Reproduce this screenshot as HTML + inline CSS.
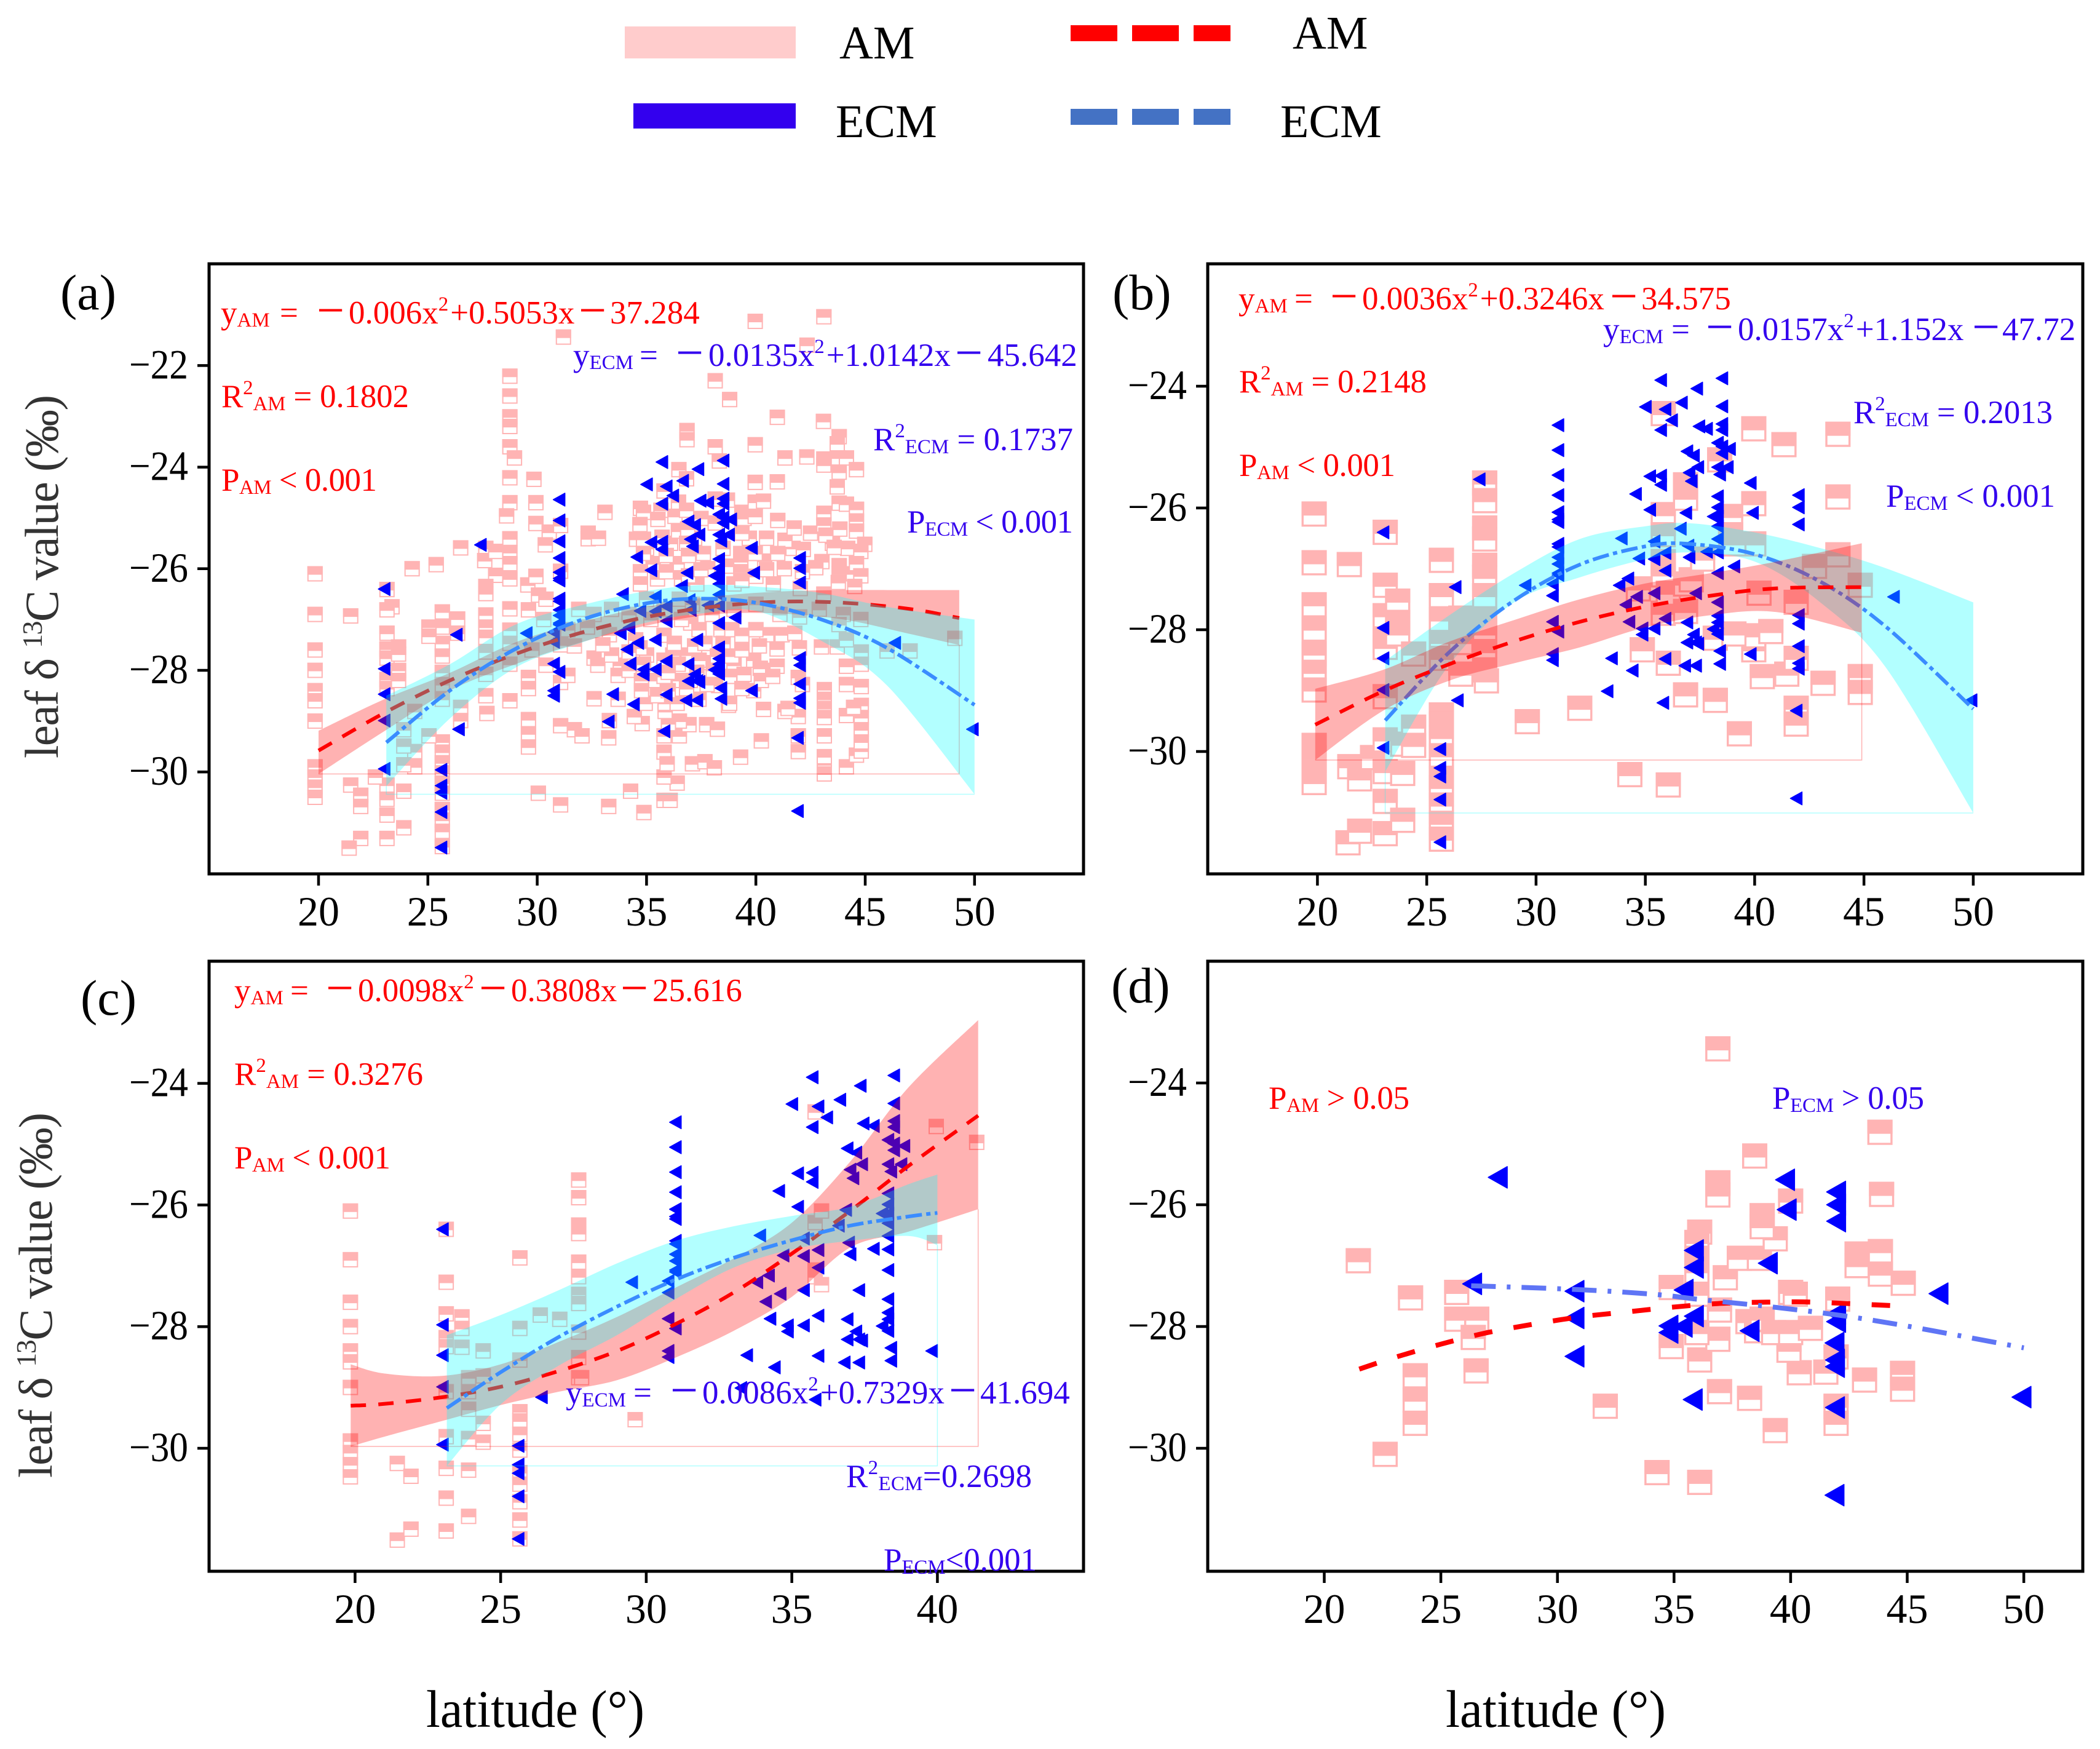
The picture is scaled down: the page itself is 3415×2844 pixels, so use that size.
<!DOCTYPE html>
<html lang="en">
<head>
<meta charset="utf-8">
<title>Leaf d13C versus latitude</title>
<style>
html,body{margin:0;padding:0;background:#fff;}
svg{display:block;}
text{font-family:"Liberation Serif","DejaVu Serif",serif;}
.eq{font-size:53px;}
.tick{font-size:68px;fill:#000;}
.red{fill:#ff0000;}
.blue{fill:#3300ee;}
</style>
</head>
<body>
<svg id="figure" xmlns="http://www.w3.org/2000/svg" width="3415" height="2844" viewBox="0 0 3415 2844">
<rect x="0" y="0" width="3415" height="2844" fill="#fff"/>

<g>
  <rect x="1016" y="43" width="278" height="52" fill="#ffcccc"/>
  <text x="1365" y="95" font-size="76" fill="#000">AM</text>
  <rect x="1030" y="168" width="264" height="41" fill="#3300ee"/>
  <text x="1359" y="223" font-size="76" fill="#000">ECM</text>
  <g fill="#ff0000">
    <rect x="1741" y="41" width="76" height="26"/><rect x="1841" y="41" width="76" height="26"/><rect x="1941" y="41" width="60" height="26"/>
  </g>
  <text x="2102" y="79" font-size="76" fill="#000">AM</text>
  <g fill="#4472c4">
    <rect x="1741" y="177" width="76" height="26"/><rect x="1841" y="177" width="76" height="26"/><rect x="1941" y="177" width="60" height="26"/>
  </g>
  <text x="2082" y="223" font-size="76" fill="#000">ECM</text>
</g>

<g id="plots"></g>

<g>
  <text x="98" y="503" font-size="82" fill="#000">(a)</text>
  <text x="1809" y="503" font-size="82" fill="#000">(b)</text>
  <text x="131" y="1650" font-size="82" fill="#000">(c)</text>
  <text x="1807" y="1630" font-size="82" fill="#000">(d)</text>
</g>

<g>
  <text transform="translate(94,1233) rotate(-90)" font-size="77" fill="#333" textLength="591">leaf δ <tspan font-size="46" dy="-26">13</tspan><tspan dy="26">C value (‰)</tspan></text>
  <text transform="translate(84,2403) rotate(-90)" font-size="77" fill="#333" textLength="594">leaf δ <tspan font-size="46" dy="-26">13</tspan><tspan dy="26">C value (‰)</tspan></text>
  <text x="693" y="2808" font-size="86" fill="#000" textLength="355" lengthAdjust="spacingAndGlyphs">latitude (°)</text>
  <text x="2351" y="2808" font-size="86" fill="#000" textLength="358" lengthAdjust="spacingAndGlyphs">latitude (°)</text>
</g>

<g>
  <text class="eq red" y="526"><tspan x="359">y</tspan><tspan font-size="33" dy="5">AM</tspan><tspan x="455" dy="-5">=</tspan><tspan x="515" font-size="80" dy="5">−</tspan><tspan x="567" dy="-5">0.006x</tspan><tspan font-size="33" dy="-21">2</tspan><tspan dy="21" dx="3">+0.5053x</tspan><tspan x="941" font-size="80" dy="5">−</tspan><tspan x="992" dy="-5">37.284</tspan></text>
  <text class="eq blue" y="595"><tspan x="932">y</tspan><tspan font-size="33" dy="5">ECM</tspan><tspan x="1040" dy="-5">=</tspan><tspan x="1099" font-size="80" dy="5">−</tspan><tspan x="1152" dy="-5">0.0135x</tspan><tspan font-size="33" dy="-21">2</tspan><tspan dy="21" dx="3">+1.0142x</tspan><tspan x="1553" font-size="80" dy="5">−</tspan><tspan x="1606" dy="-5">45.642</tspan></text>
  <text class="eq red" x="360" y="662" textLength="305">R<tspan font-size="33" dy="-21">2</tspan><tspan font-size="33" dy="26">AM</tspan><tspan dy="-5"> = 0.1802</tspan></text>
  <text class="eq red" x="360" y="798" textLength="253">P<tspan font-size="33" dy="5">AM</tspan><tspan dy="-5"> &lt; 0.001</tspan></text>
  <text class="eq blue" x="1420" y="732" textLength="325">R<tspan font-size="33" dy="-21">2</tspan><tspan font-size="33" dy="26">ECM</tspan><tspan dy="-5"> = 0.1737</tspan></text>
  <text class="eq blue" x="1475" y="866" textLength="270">P<tspan font-size="33" dy="5">ECM</tspan><tspan dy="-5"> &lt; 0.001</tspan></text>
</g>

<g>
  <text class="eq red" y="503"><tspan x="2014">y</tspan><tspan font-size="33" dy="5">AM</tspan><tspan x="2105" dy="-5">=</tspan><tspan x="2163" font-size="80" dy="5">−</tspan><tspan x="2215" dy="-5">0.0036x</tspan><tspan font-size="33" dy="-21">2</tspan><tspan dy="21" dx="3">+0.3246x</tspan><tspan x="2618" font-size="80" dy="5">−</tspan><tspan x="2669" dy="-5">34.575</tspan></text>
  <text class="eq blue" y="553"><tspan x="2607">y</tspan><tspan font-size="33" dy="5">ECM</tspan><tspan x="2718" dy="-5">=</tspan><tspan x="2774" font-size="80" dy="5">−</tspan><tspan x="2826" dy="-5">0.0157x</tspan><tspan font-size="33" dy="-21">2</tspan><tspan dy="21" dx="3">+1.152x</tspan><tspan x="3207" font-size="80" dy="5">−</tspan><tspan x="3256" dy="-5">47.72</tspan></text>
  <text class="eq red" x="2015" y="638" textLength="305">R<tspan font-size="33" dy="-21">2</tspan><tspan font-size="33" dy="26">AM</tspan><tspan dy="-5"> = 0.2148</tspan></text>
  <text class="eq red" x="2015" y="774" textLength="254">P<tspan font-size="33" dy="5">AM</tspan><tspan dy="-5"> &lt; 0.001</tspan></text>
  <text class="eq blue" x="3014" y="688" textLength="324">R<tspan font-size="33" dy="-21">2</tspan><tspan font-size="33" dy="26">ECM</tspan><tspan dy="-5"> = 0.2013</tspan></text>
  <text class="eq blue" x="3067" y="824" textLength="275">P<tspan font-size="33" dy="5">ECM</tspan><tspan dy="-5"> &lt; 0.001</tspan></text>
</g>

<g>
  <text class="eq red" y="1628"><tspan x="381">y</tspan><tspan font-size="33" dy="5">AM</tspan><tspan x="472" dy="-5">=</tspan><tspan x="530" font-size="80" dy="5">−</tspan><tspan x="582" dy="-5">0.0098x</tspan><tspan font-size="33" dy="-21">2</tspan><tspan x="779" font-size="80" dy="26">−</tspan><tspan x="831" dy="-5">0.3808x</tspan><tspan x="1009" font-size="80" dy="5">−</tspan><tspan x="1061" dy="-5">25.616</tspan></text>
  <text class="eq red" x="381" y="1764" textLength="307">R<tspan font-size="33" dy="-21">2</tspan><tspan font-size="33" dy="26">AM</tspan><tspan dy="-5"> = 0.3276</tspan></text>
  <text class="eq red" x="381" y="1900" textLength="254">P<tspan font-size="33" dy="5">AM</tspan><tspan dy="-5"> &lt; 0.001</tspan></text>
  <text class="eq blue" y="2282"><tspan x="920">y</tspan><tspan font-size="33" dy="5">ECM</tspan><tspan x="1030" dy="-5">=</tspan><tspan x="1090" font-size="80" dy="5">−</tspan><tspan x="1142" dy="-5">0.0086x</tspan><tspan font-size="33" dy="-21">2</tspan><tspan dy="21" dx="3">+0.7329x</tspan><tspan x="1543" font-size="80" dy="5">−</tspan><tspan x="1594" dy="-5">41.694</tspan></text>
  <text class="eq blue" x="1376" y="2418" textLength="302">R<tspan font-size="33" dy="-21">2</tspan><tspan font-size="33" dy="26">ECM</tspan><tspan dy="-5">=0.2698</tspan></text>
  <text class="eq blue" x="1437" y="2554" textLength="249">P<tspan font-size="33" dy="5">ECM</tspan><tspan dy="-5">&lt;0.001</tspan></text>
</g>

<g>
  <text class="eq red" x="2063" y="1803" textLength="229">P<tspan font-size="33" dy="5">AM</tspan><tspan dy="-5"> &gt; 0.05</tspan></text>
  <text class="eq blue" x="2882" y="1803" textLength="247">P<tspan font-size="33" dy="5">ECM</tspan><tspan dy="-5"> &gt; 0.05</tspan></text>
</g>
</svg>

<script>
/* ---------- tick labels ---------- */
const xTicksAB = [20,25,30,35,40,45,50];
const xTicksC = [20,25,30,35,40];
const xTicksD = [20,25,30,35,40,45,50];
const yTicksA = [-22,-24,-26,-28,-30];
const yTicksBCD = [-24,-26,-28,-30];

/* ---------- scatter values: [latitude, leaf d13C] ---------- */
const ecmAB = [
[31,-24.64],[31,-25.05],[31,-25.46],[31,-25.79],[31,-26.07],[31,-26.19],[31,-26.23],[31,-26.59],[31,-26.64],[31,-26.81],[31,-26.92],[31,-27.07],[31,-27.1],[30.75,-27.25],[30.75,-27.44],[30.75,-28.4],[30.75,-28.5],[31,-28.03],[30.75,-27.87],
[29.5,-27.27],[26.3,-27.3],[23,-26.4],[23,-27.97],[23,-28.47],[23,-28.99],[23,-29.94],[26.4,-29.16],[27.4,-25.53],
[25.6,-29.96],[25.6,-30.27],[25.6,-30.41],[25.6,-30.79],[25.6,-31.49],
[33.25,-29.01],[33.45,-28.47],[34.4,-28.67],[33.9,-26.5],[33.8,-27.27],[34.2,-27.16],[34.1,-27.59],[34.25,-27.87],[34.6,-27.46],[34.7,-26.83],[34.55,-25.77],[34.85,-28.08],[34.85,-27.98],[35,-24.34],[35.2,-26.03],[35.2,-25.48],
[35.4,-26.55],[35.4,-26.84],[35.4,-27.4],[35.4,-27.98],[35.7,-23.9],[35.7,-24.72],[35.7,-25.47],[35.7,-25.62],[35.9,-24.38],[35.9,-26.74],[35.9,-27.03],[35.9,-27.82],[35.9,-28.48],[35.8,-29.2],
[36.2,-24.56],[36.65,-24.27],[36.6,-26.34],[36.9,-25.07],[37,-25.42],[36.85,-26.08],[36.9,-27.88],[37,-26.81],[36.95,-26.62],[36.9,-28.21],[36.8,-28.59],[37.1,-25.56],[37.2,-25.14],[37.35,-24.04],[37.4,-25.33],[37.45,-24.66],[37.8,-24.7],[37.2,-28.08],[37.3,-28.21],[37.4,-28.23],[37.3,-27.4],[37.3,-28.59],[37.8,-26.72],
[38.5,-23.87],[38.5,-24.33],[38.5,-24.62],[38.5,-24.72],[38.3,-24.93],[38.5,-24.99],[38.85,-25.03],[38.5,-25.1],[38.3,-25.33],[38.4,-25.45],[38.75,-25.33],[38.3,-25.81],[38.3,-25.99],[38.3,-26.14],[38.3,-26.3],[38.1,-26.14],[38.3,-26.51],[38.3,-26.73],[38.3,-27.07],[38.3,-27.55],[38.3,-27.77],[38.3,-27.88],[38.1,-27.99],[38.3,-28.07],[38.4,-28.35],[38.4,-28.56],
[39.05,-26.96],[39.8,-25.59],[39.9,-26.08],[39.8,-28.4],
[42,-25.79],[42,-25.99],[42,-26.27],[42,-27.76],[42,-27.9],[42,-28.27],[42,-28.55],[42,-28.64],[41.9,-29.33],[41.9,-30.77],[46.35,-27.46],[49.9,-29.16]
];

const amA = [
[31.2,-21.44],[28.75,-22.21],[28.75,-22.6],[28.75,-23.01],[28.75,-23.2],[28.75,-23.6],[28.96,-23.82],[28.75,-24.21],[28.75,-24.7],[28.6,-24.96],[29.85,-24.24],[29.94,-24.7],[29.94,-25.11],[30.55,-25.28],[30.37,-25.53],[31.07,-25.15],[31.07,-26.05],[33.1,-24.89],[32.33,-25.3],[32.33,-25.41],[32.8,-25.4],
[26.5,-25.59],[25.38,-25.92],[24.28,-26],[19.84,-26.1],[27.65,-25.6],[27.6,-25.84],[28.1,-25.66],[28.1,-26.13],[27.65,-26.35],[27.65,-26.49],[28.75,-25.41],[28.75,-25.68],[28.75,-25.9],[28.75,-26.2],[29.57,-26.32],[29.94,-26.15],[30.06,-26.52],[23.13,-26.41],[23.36,-26.75],
[19.84,-26.9],[21.47,-26.93],[23.13,-26.81],[19.84,-27.6],[19.84,-28],[19.84,-28.4],[19.84,-28.6],[19.84,-29],[19.84,-29.9],[19.84,-30.1],[19.84,-30.3],[19.84,-30.5],
[23.13,-27.27],[23.13,-27.58],[23.13,-27.76],[23.13,-28.18],[23.13,-28.36],[23.13,-30.26],[23.13,-30.54],[23.13,-30.85],[23.13,-31.31],[23.66,-27.54],[23.66,-27.68],[23.66,-28],[23.66,-28.2],
[25.66,-26.85],[25.66,-27.15],[25.66,-27.47],[25.66,-27.72],[25.66,-28.04],[25.66,-28.28],[25.66,-28.57],[25.66,-29.41],[25.66,-29.61],[25.66,-29.82],[25.66,-30.02],[25.66,-30.22],[25.66,-30.42],[25.66,-30.74],[25.66,-30.95],[25.66,-31.17],[25.66,-31.47],
[25.05,-27.15],[25.05,-27.33],[26.36,-26.99],[26.36,-27.27],
[27.65,-26.91],[27.65,-27.15],[27.65,-27.35],[27.65,-27.64],[27.65,-28.08],[27.65,-28.5],[27.7,-28.85],
[28.75,-26.79],[28.75,-27.21],[28.75,-27.47],[28.75,-27.88],[28.75,-28.6],[29.6,-26.81],[29.6,-28.14],[29.6,-28.36],[29.6,-28.97],[29.6,-29.25],[29.6,-29.51],[30.4,-27.9],[31.07,-27.5],[31.07,-28.24],[31.07,-29.09],[31.4,-28.1],[31.7,-27.52],[31.7,-29.17],[32.05,-29.29],[32.6,-27.76],[32.77,-27.9],[32.6,-28.56],
[26.5,-28.73],[26.5,-28.99],[25.05,-29.29],[24.4,-29.9],[24.4,-29.6],[23.9,-29.86],[23.9,-30.38],[23.9,-31.1],[22.6,-30.1],[21.47,-30.26],[21.93,-30.46],[21.93,-30.68],[21.93,-31.31],[21.4,-31.5],[30.05,-30.42],[31.07,-30.65],[24.4,-28.81],[23.9,-29.17],[23.9,-29.49],[29.76,-27.6],
[33.27,-30.68],[34.27,-30.38],[34.88,-30.8],[35.8,-30.56],[36.08,-30.56],[36.4,-30.22],[35.8,-30.1],[35.8,-29.61],[35.94,-29.84],[35.8,-29.29],[36.5,-29.29],[37.1,-29.84],[37.67,-29.8],[38.1,-29.92],[39.3,-29.71],[40.25,-29.39],[41.94,-29.6],[41.94,-29.29],[43.13,-29.86],[43.13,-30.04],[43.13,-29.7],[44.14,-29.9],[44.6,-29.67],[44.82,-29.59],
[43.13,-28.38],[43.13,-28.57],[43.13,-28.75],[43.13,-28.93],[43.13,-29.29],[44.82,-28.32],[44.82,-28.69],[44.82,-28.93],[44.82,-29.17],[44.82,-29.41],[44.14,-28.28],[44.14,-27.92],[44.14,-28.89],[44.47,-28.73],
[41.94,-28.91],[41.94,-28.14],[41.33,-28.81],[41.47,-28.75],[42.13,-28.28],[40.35,-28.77],[38.75,-28.69],[37.75,-29.07],[38.24,-29.16],[36.94,-29.07],[36.5,-29],[36,-29.05],[34.8,-29.05],[34.44,-28.91],[33.27,-29.33],[33.3,-28.99],[34.94,-28.65],[35.85,-28.81],[33.7,-28.57],[35.85,-28.65],[36.4,-28.65],[37.4,-28.57],[38.8,-28.65],[39.9,-28.4],
[34.5,-27.4],[35,-27.7],[35.3,-28.2],[35.5,-28.5],[36.2,-27.7],[36.5,-28.2],[36.9,-27.7],[37,-28.2],[37.7,-27.85],[38.3,-28.3],[38.4,-27.2],[39,-27.9],[39.9,-27.8],[40.5,-27.3],[40.5,-28],[41.2,-27.3],[33.8,-27.9],[33.7,-28.1],[33.4,-27.7],
[34.7,-27.56],[34.2,-27.64],[34.86,-27.88],[34.2,-28],[34.77,-28.2],[34.77,-28.4],[35.8,-27.31],[36.27,-27.47],[35.8,-27.8],[35.8,-28.12],[36.45,-27.88],[35.99,-28.04],[36.83,-28.36],[35.99,-28.4],
[37.02,-27.07],[37.2,-27.52],[37.4,-27.2],[37.67,-27.47],[37.4,-27.8],[37.3,-28.04],[37.77,-28.28],[38.05,-28],[38.24,-27.72],[38.5,-27.47],[38.9,-27.2],[38.9,-27.72],[38.8,-28.12],[39.36,-27.31],[39.36,-27.6],[39.46,-28.08],[39.36,-28.36],[40,-27.2],[40.16,-27.52],[40.2,-27.96],[40.25,-28.2],[40.97,-27.58],[40.97,-27.92],[40.77,-28.12],[41.99,-27.56],[41.78,-27.27],
[43,-27.54],[43.72,-27.54],[44.14,-27.4],[44.82,-27.64],[44.82,-27.88],[46,-27.62],[47.05,-27.62],[49.1,-27.37],
[39.97,-21.13],[43.11,-21.04],[42.34,-21.6],[38.14,-22.3],[38.8,-22.67],[40.98,-23.02],[43.09,-23.1],[43.81,-23.4],[43.72,-23.54],[36.85,-23.28],[36.85,-23.46],[38.14,-23.6],[38.33,-23.88],[39.97,-23.56],[41.33,-23.82],[42.33,-23.8],[36.48,-24.05],[36.83,-24.23],[35.8,-24.47],[39.97,-24.3],[40.98,-24.29],[43.11,-23.84],[43.11,-23.96],[43.77,-23.82],[44.14,-23.82],[43.81,-24.1],[44.6,-24.05],[43.72,-24.39],[38.14,-24.63],[38.7,-24.65],
[35,-25.6],[35.3,-25.9],[35.5,-26.2],[36.1,-25.5],[36.4,-25.9],[36.6,-26.2],[37.2,-25.4],[37.6,-25.7],[37.8,-26],[37.3,-26.3],[38.5,-25.6],[38.8,-25.95],[39,-26.3],[39.7,-25.4],[40,-26.15],[40.4,-25.85],[40.8,-26.3],[41.3,-26],[41.7,-25.6],[42.5,-25.3],[43.5,-25.5],[44.2,-25.6],[44.2,-26.1],
[34.72,-24.81],[34.86,-24.89],[34.7,-25.13],[34.54,-25.42],[34.86,-25.42],[34.86,-25.7],[34.72,-26.06],[34.72,-26.3],
[35.66,-24.85],[35.52,-25.03],[36.46,-24.69],[36.3,-24.97],[36.83,-24.85],[36.46,-25.26],[36.88,-25.22],[35.71,-25.38],[36.83,-25.5],[35.9,-25.74],[36.92,-25.74],[35.9,-26.06],[36.92,-26.14],[37.49,-25.01],[38.14,-25.1],[37.49,-26.02],
[39.36,-24.89],[39.46,-25.01],[39.97,-24.69],[39.97,-24.97],[40.35,-24.67],[39.36,-25.3],[39.31,-25.7],[39.31,-25.86],[39.31,-26.06],[39.36,-26.23],[39.97,-25.7],[40.49,-25.4],[41.33,-25.44],[41,-25.05],[41,-25.7],[41.75,-25.2],[40.49,-26.02],
[43.11,-24.91],[43.11,-25.14],[43.81,-24.71],[44.14,-24.73],[44.6,-24.83],[44.6,-25.06],[44.6,-25.26],[43.84,-25.22],[43.2,-25.34],[43.58,-25.58],[44.98,-25.52],[44.8,-25.66],[43.81,-25.94],[43.81,-26.1],[43.77,-26.27],[44.6,-25.9],[44.8,-26.14],[44.52,-26.35],[42.17,-25.62],[43.02,-25.86],[42.74,-25.98],[42.13,-26.06],[42.03,-26.39],[43.11,-26.5],
[35,-26.6],[35.8,-26.8],[36.5,-26.6],[37.1,-26.7],[38,-26.9],[39,-26.8],[40,-26.7],[41.1,-26.9],[42,-26.95],[42.9,-26.8],[44,-26.9],[44.8,-27],[43.8,-27.1],[35.2,-27],[36.6,-27],[34.2,-26.9],[33.4,-26.8],[33.3,-27.3],[33,-27.5],[32.6,-26.9],[31.9,-26.8],[31.4,-27.2],[32.3,-27.15],[30.4,-26.6],[30.3,-27]
];

const amB = [
[19.85,-26.1],[19.85,-26.9],[19.85,-27.59],[19.85,-27.99],[19.85,-28.4],[19.85,-28.7],[19.85,-28.99],[19.85,-29.9],[19.85,-30.1],[19.85,-30.33],[19.85,-30.51],
[21.46,-26.93],[21.4,-31.5],[21.48,-30.25],[21.93,-31.31],[21.93,-30.45],[22.52,-30.1],
[23.1,-26.4],[23.1,-27.27],[23.1,-27.77],[23.1,-28.18],[23.1,-28.29],[23.1,-29.1],[23.1,-29.81],[23.1,-30.33],[23.1,-30.82],[23.1,-31.35],
[23.67,-27.53],[23.67,-27.88],[23.67,-28.07],[23.9,-30.36],[23.9,-29.88],[23.9,-31.13],[24.4,-28.4],[24.4,-29.6],[24.4,-29.9],
[25.67,-26.86],[25.67,-27.44],[25.67,-27.84],[25.67,-28.21],[25.67,-28.47],[25.67,-29.4],[25.67,-29.55],[25.67,-29.77],[25.67,-30.07],[25.67,-30.44],[25.67,-30.59],[25.67,-30.88],[25.67,-31.18],[25.67,-31.44],
[26.56,-27.81],[26.56,-27.99],[26.56,-28.21],[26.56,-28.73],
[27.65,-25.59],[27.65,-25.88],[27.65,-26.33],[27.65,-26.51],[27.65,-26.94],[27.65,-27.14],[27.65,-27.44],[27.65,-27.84],[27.65,-28.07],[27.65,-28.36],[27.65,-28.66],[27.73,-28.84],
[29.6,-29.51],[32,-29.29],[34.29,-30.38],[34.86,-28.33],[34.68,-27.33],
[35.82,-24.45],[35.82,-26.11],[35.82,-26.44],[35.82,-26.88],[35.82,-27.1],[35.82,-27.73],[36.05,-30.55],[36.05,-28.55],[36.05,-27.4],
[36.84,-25.62],[36.84,-25.84],[36.84,-29.07],[36.84,-27.7],[36.84,-27.25],[37.1,-27.18],[37.62,-26.84],[38.2,-29.16],[38.2,-28.14],[38.4,-25.21],[38.9,-26.14],[38.9,-26.44],[39.3,-29.71],
[39.96,-24.7],[39.96,-25.93],[39.96,-26.59],[39.96,-28.33],[39.96,-28.1],[40.2,-27.4],[39.05,-28.07],[39.05,-26.59],[40.74,-28.03],[40.35,-28.77],[41.47,-28.73],[41.34,-24.96],[41.9,-29.29],[41.9,-29.55],[41.9,-27.55],[41.9,-28.47],[42.74,-26.96],[43.13,-28.88],[43.81,-24.79],[43.81,-25.82],[43.81,-26.77],[44.83,-28.77],[44.83,-29.03],[44.83,-27.27]
];

const amC = [
[19.84,-26.1],[19.84,-26.9],[19.84,-27.6],[19.84,-28],[19.84,-28.4],[19.84,-28.58],[19.84,-29],[19.84,-29.88],[19.84,-30.07],[19.84,-30.27],[19.84,-30.47],
[21.45,-30.25],[21.45,-31.51],[21.92,-30.46],[21.92,-31.33],
[23.13,-26.4],[23.13,-27.27],[23.13,-27.79],[23.13,-28.18],[23.13,-28.33],[23.13,-29.07],[23.13,-29.81],[23.13,-30.33],[23.13,-30.82],[23.13,-31.36],
[23.67,-27.84],[23.67,-28.03],[23.67,-28.34],[23.9,-28.84],[23.9,-29.07],[23.9,-29.36],[23.9,-29.84],[23.9,-30.36],[23.9,-31.12],[24.4,-28.4],[24.4,-28.81],[24.4,-29.59],[24.4,-29.9],
[25.66,-26.87],[25.66,-28.03],[25.66,-28.55],[25.66,-29.4],[25.66,-29.55],[25.66,-29.77],[25.66,-30.03],[25.66,-30.4],[25.66,-30.59],[25.66,-30.88],[25.66,-31.18],[25.66,-31.49],
[26.36,-27.81],[27.03,-27.88],
[27.68,-25.59],[27.68,-25.88],[27.68,-26.33],[27.68,-26.47],[27.68,-26.94],[27.68,-27.18],[27.68,-27.47],[27.68,-27.62],[27.68,-28.09],[27.68,-28.51],[27.68,-28.84],[27.78,-28.84],
[29.62,-29.53],[35.8,-24.47],[35.8,-26.29],[35.8,-27.07],[35.8,-27.18],[36.02,-26.1],[36.02,-27.31],[39.96,-24.71],[39.9,-26.62],[41.35,-24.97]
];

const amD = [
[21.46,-26.92],[23.7,-27.53],[25.68,-27.44],[25.68,-27.88],[26.54,-27.88],[26.39,-28.18],[26.51,-28.73],[23.9,-28.81],[23.9,-29.21],[23.9,-29.59],[22.61,-30.1],[34.27,-30.4],[36.1,-30.56],[32.05,-29.31],[36.95,-29.07],[38.24,-29.18],[39.34,-29.71],[41.95,-29.31],[41.95,-29.59],[43.17,-28.88],[44.8,-28.77],[44.8,-29.03],[40.37,-28.76],[41.51,-28.75],[41.95,-28.5],[39.93,-28.39],[36.1,-28.55],[36.88,-28.21],[34.88,-28.33],[35.98,-28.1],[36.95,-27.73],[38.17,-27.92],[38.54,-28.07],[38.78,-27.88],[39.27,-28.1],[40,-28.1],[40.85,-28.03],[37.2,-27.2],[37.8,-26.88],[38.66,-26.88],[39.34,-26.56],[38.78,-26.18],[38.78,-26.36],[36.88,-23.44],[36.88,-25.64],[36.88,-25.84],[38.46,-25.2],[43.83,-24.81],[43.9,-25.83],[43.85,-26.77],[43.85,-27.14],[42.85,-26.81],[42.85,-27],[44.83,-27.29],[40,-25.94],[36.1,-26.45],[35.98,-26.62],[35.98,-26.88],[35.98,-27.1],[34.88,-27.36],[42.02,-27.55],[40,-27.44],[40.2,-27.47],[35.98,-27.47]
];

const ecmD = [
[27.44,-25.55],[26.34,-27.3],[30.73,-27.42],[30.73,-27.86],[30.73,-28.49],[35.85,-26.75],[35.85,-27.03],[35.41,-27.4],[35.85,-27.83],[34.76,-27.99],[35.37,-28],[34.76,-28.1],[35.8,-29.2],[38.24,-28.07],[39.02,-26.96],[39.76,-25.59],[39.83,-26.08],[41.95,-25.79],[41.95,-26],[41.95,-26.27],[41.95,-27.79],[41.95,-27.92],[41.88,-28.27],[41.9,-28.55],[41.9,-28.66],[41.9,-29.33],[41.88,-30.77],[46.34,-27.46],[49.9,-29.16]
];

/* Panel (c) shows the ECM sites without the highest-latitude ones and two low-latitude ones */
const ecmCDropped = [[26.3,-27.3],[27.4,-25.53],[39.05,-26.96],[39.8,-25.59],[39.9,-26.08]];
const ecmCMaxLat = 39.8;

/* ---------- fitted curves and confidence bands ---------- */
const latAmA = [20,23,26,29,32,35,38,41,44,47,49.3];
const meanAmA = [-29.58,-28.84,-28.2,-27.68,-27.26,-26.95,-26.75,-26.65,-26.67,-26.79,-26.97];
const upperAmA = [-29.19,-28.57,-28.05,-27.45,-27.05,-26.75,-26.55,-26.45,-26.42,-26.42,-26.42];
const lowerAmA = [-30.04,-29.2,-28.4,-27.88,-27.45,-27.12,-26.9,-26.88,-27,-27.28,-27.5];
const latEcmA = [23.1,26,29,32,35,37.5,40,43,46,50];
const meanEcmA = [-29.42,-28.4,-27.58,-27.01,-26.68,-26.59,-26.67,-27,-27.56,-28.68];
const upperEcmA = [-28.5,-27.88,-27.1,-26.72,-26.44,-26.32,-26.35,-26.48,-26.75,-27];
const lowerEcmA = [-30.28,-28.95,-27.95,-27.46,-27.06,-26.88,-26.83,-27.42,-28.3,-30.44];

const latAmB = [19.9,23,26,29,32,35,38,41,44.9];
const meanAmB = [-29.56,-29.01,-28.57,-28.19,-27.87,-27.62,-27.44,-27.32,-27.3];
const upperAmB = [-28.97,-28.66,-28.2,-27.84,-27.5,-27.24,-27.07,-26.88,-26.58];
const lowerAmB = [-30.14,-29.33,-28.84,-28.55,-28.29,-27.96,-27.76,-27.71,-28.05];
const latEcmB = [23.1,26,29,32,35,37,40,43,46,50];
const meanEcmB = [-29.49,-28.38,-27.52,-26.93,-26.63,-26.59,-26.76,-27.21,-27.95,-29.3];
const upperEcmB = [-28.51,-27.77,-27.07,-26.51,-26.3,-26.25,-26.4,-26.66,-26.99,-27.55];
const lowerEcmB = [-30.33,-28.59,-27.55,-27.14,-26.84,-26.73,-26.88,-27.55,-28.62,-31.01];

const latAmC = [19.85,21,23,25,27,29,31,33,35,37,39,41.4];
const meanAmC = [-29.3,-29.27,-29.16,-28.99,-28.73,-28.4,-27.96,-27.44,-26.8,-26.1,-25.36,-24.53];
const upperAmC = [-28.62,-28.77,-28.81,-28.62,-28.25,-27.84,-27.36,-26.88,-26.29,-25.29,-24.07,-22.96];
const lowerAmC = [-29.97,-29.81,-29.55,-29.29,-29.07,-28.88,-28.51,-28.07,-27.51,-26.7,-26.44,-26.07];
const latEcmC = [23.15,25,27,29,31,33,35,37,39,40];
const meanEcmC = [-29.34,-28.75,-28.17,-27.67,-27.23,-26.87,-26.58,-26.34,-26.19,-26.13];
const upperEcmC = [-28.14,-27.81,-27.4,-26.96,-26.59,-26.35,-26.18,-26.03,-25.66,-25.5];
const lowerEcmC = [-30.29,-29.28,-28.64,-28.14,-27.55,-27.03,-26.73,-26.59,-26.51,-26.66];

const latAmD = [21.5,23,25,27,29,31,33,35,37,39,41,44.5];
const meanAmD = [-28.7,-28.51,-28.29,-28.1,-27.96,-27.84,-27.76,-27.68,-27.62,-27.6,-27.6,-27.66];
const latEcmD = [26.3,30.7,34.1,36.2,39,42,45.1,50];
const meanEcmD = [-27.33,-27.39,-27.47,-27.56,-27.67,-27.81,-28,-28.35];

/* ---------- drawing ---------- */
const SVGNS = 'http://www.w3.org/2000/svg';
const PINK = '#ffb4b4';
const plots = document.getElementById('plots');

function make(parent, tag, attrs) {
  const el = document.createElementNS(SVGNS, tag);
  for (const k in attrs) el.setAttribute(k, attrs[k]);
  parent.appendChild(el);
  return el;
}

function smoothPath(pts, start) {
  let d = (start ? 'M' : 'L') + pts[0][0].toFixed(1) + ' ' + pts[0][1].toFixed(1);
  for (let i = 0; i < pts.length - 1; i++) {
    const p0 = pts[Math.max(0, i - 1)], p1 = pts[i], p2 = pts[i + 1], p3 = pts[Math.min(pts.length - 1, i + 2)];
    const c1x = p1[0] + (p2[0] - p0[0]) / 6, c1y = p1[1] + (p2[1] - p0[1]) / 6;
    const c2x = p2[0] - (p3[0] - p1[0]) / 6, c2y = p2[1] - (p3[1] - p1[1]) / 6;
    d += 'C' + c1x.toFixed(1) + ' ' + c1y.toFixed(1) + ' ' + c2x.toFixed(1) + ' ' + c2y.toFixed(1) + ' ' + p2[0].toFixed(1) + ' ' + p2[1].toFixed(1);
  }
  return d;
}

function drawAmPoint(layer, p, px, py, size) {
  const s = size, sw = s >= 35 ? 3.4 : 2, filled = s * 0.56;
  const x = px(p[0]) - s / 2, y = py(p[1]) - s / 2;
  const g = make(layer, 'g', {});
  
  
  make(g, 'rect', {x: x + sw / 2, y: y + sw / 2, width: s - sw, height: s - sw, fill: '#fff', stroke: PINK, 'stroke-width': sw});
  make(g, 'rect', {x: x, y: y, width: s, height: filled, fill: PINK});
}

function drawEcmPoint(layer, p, px, py, w, h) {
  const cx = px(p[0]), cy = py(p[1]);
  const pts = (cx - w / 2) + ',' + cy + ' ' + (cx + w / 2) + ',' + (cy - h / 2) + ' ' + (cx + w / 2) + ',' + (cy + h / 2);
  const tri = make(layer, 'polygon', {points: pts, fill: '#0000ff', stroke: '#0000ff', 'stroke-width': 1.5, 'stroke-linejoin': 'round'});
  
  
}

function drawBand(layer, name, lat, upper, lower, rgb, px, py) {
  const up = lat.map((v, i) => [px(v), py(upper[i])]);
  const lo = lat.map((v, i) => [px(v), py(lower[i])]).reverse();
  const band = make(layer, 'path', {d: smoothPath(up, true) + smoothPath(lo, false) + 'Z', fill: 'rgba(' + rgb + ',0.3)'});
  
  
  const bottom = py(Math.min.apply(null, lower));
  const edge = make(layer, 'path', {
    d: 'M' + px(lat[0]) + ' ' + py(lower[0]) + 'V' + bottom + 'H' + px(lat[lat.length - 1]) + 'V' + py(lower[lower.length - 1]),
    fill: 'none', stroke: 'rgba(' + rgb + ',0.3)', 'stroke-width': 1.5
  });
  
  
}

function drawLine(layer, name, lat, mean, color, width, dash, px, py) {
  const pts = lat.map((v, i) => [px(v), py(mean[i])]);
  const line = make(layer, 'path', {d: smoothPath(pts, true), fill: 'none', stroke: color, 'stroke-width': width, 'stroke-dasharray': dash});
  
  
}

function drawAxes(layer, cfg, px, py) {
  const frame = make(layer, 'rect', {x: cfg.left, y: cfg.top, width: cfg.right - cfg.left, height: cfg.bottom - cfg.top, fill: 'none', stroke: '#000', 'stroke-width': 5});
  
  
  cfg.xTicks.forEach(function (t) {
    const x = px(t);
    const tick = make(layer, 'line', {x1: x, x2: x, y1: cfg.bottom, y2: cfg.bottom + 19, stroke: '#000', 'stroke-width': 4.5});
    
    
    const label = make(layer, 'text', {x: x, y: cfg.bottom + 84, 'text-anchor': 'middle', 'class': 'tick'});
    
    
    label.textContent = String(t);
  });
  cfg.yTicks.forEach(function (t) {
    const y = py(t);
    const tick = make(layer, 'line', {x1: cfg.left - 19, x2: cfg.left, y1: y, y2: y, stroke: '#000', 'stroke-width': 4.5});
    
    
    const label = make(layer, 'text', {x: cfg.left - 130, y: y + 21, 'class': 'tick', textLength: 96, lengthAdjust: 'spacingAndGlyphs'});
    
    
    label.textContent = '\u2212' + Math.abs(t);
  });
}

function drawPanel(cfg) {
  const g = make(plots, 'g', {});
  
  
  const px = v => cfg.x20 + (v - 20) * cfg.xk;
  const py = v => cfg.y24 + (-24 - v) * cfg.yk;
  cfg.am.forEach(p => drawAmPoint(g, p, px, py, cfg.sq));
  cfg.ecm.forEach(p => drawEcmPoint(g, p, px, py, cfg.tw, cfg.th));
  const amLayer = function () {
    if (cfg.bands) drawBand(g, 'am-confidence-band', cfg.latAm, cfg.upAm, cfg.loAm, '255,0,0', px, py);
    drawLine(g, 'am-fit-line', cfg.latAm, cfg.meanAm, '#ff0000', cfg.lw, cfg.amDash, px, py);
  };
  const ecmLayer = function () {
    if (cfg.bands) drawBand(g, 'ecm-confidence-band', cfg.latEcm, cfg.upEcm, cfg.loEcm, '0,255,255', px, py);
    drawLine(g, 'ecm-fit-line', cfg.latEcm, cfg.meanEcm, cfg.ecmColor, cfg.lw, cfg.ecmDash, px, py);
  };
  if (cfg.ecmFirst) { ecmLayer(); amLayer(); } else { amLayer(); ecmLayer(); }
  drawAxes(g, cfg, px, py);
}

const ecmC = ecmAB.filter(p => p[0] <= ecmCMaxLat && !ecmCDropped.some(q => q[0] === p[0] && q[1] === p[1]));

drawPanel({id: 'a', left: 340, right: 1762, top: 429, bottom: 1421, x20: 518, xk: 35.56, y24: 759.6, yk: 82.6,
  xTicks: xTicksAB, yTicks: yTicksA, am: amA, ecm: ecmAB, sq: 25, tw: 19, th: 21, bands: true, lw: 6,
  amDash: '25 20', ecmDash: '27 7 7 7', ecmColor: '#3a8cff',
  latAm: latAmA, meanAm: meanAmA, upAm: upperAmA, loAm: lowerAmA,
  latEcm: latEcmA, meanEcm: meanEcmA, upEcm: upperEcmA, loEcm: lowerEcmA});

drawPanel({id: 'b', left: 1964, right: 3387, top: 429, bottom: 1421, x20: 2142.4, xk: 35.55, y24: 628, yk: 99,
  xTicks: xTicksAB, yTicks: yTicksBCD, am: amB, ecm: ecmAB, sq: 41, tw: 19, th: 21, bands: true, lw: 6, ecmFirst: true,
  amDash: '25 20', ecmDash: '27 7 7 7', ecmColor: '#3a8cff',
  latAm: latAmB, meanAm: meanAmB, upAm: upperAmB, loAm: lowerAmB,
  latEcm: latEcmB, meanEcm: meanEcmB, upEcm: upperEcmB, loEcm: lowerEcmB});

drawPanel({id: 'c', left: 340, right: 1762, top: 1563, bottom: 2555, x20: 577.4, xk: 47.35, y24: 1761.6, yk: 98.9,
  xTicks: xTicksC, yTicks: yTicksBCD, am: amC, ecm: ecmC, sq: 25, tw: 19, th: 21, bands: true, lw: 6,
  amDash: '25 20', ecmDash: '27 7 7 7', ecmColor: '#3a8cff',
  latAm: latAmC, meanAm: meanAmC, upAm: upperAmC, loAm: lowerAmC,
  latEcm: latEcmC, meanEcm: meanEcmC, upEcm: upperEcmC, loEcm: lowerEcmC});

drawPanel({id: 'd', left: 1964, right: 3387, top: 1563, bottom: 2555, x20: 2153.5, xk: 37.92, y24: 1761, yk: 99,
  xTicks: xTicksD, yTicks: yTicksBCD, am: amD, ecm: ecmD, sq: 41, tw: 31, th: 35, bands: false, lw: 8,
  amDash: '30 35', ecmDash: '40 18 6 18', ecmColor: '#5f75f5',
  latAm: latAmD, meanAm: meanAmD, latEcm: latEcmD, meanEcm: meanEcmD});
</script>
</body>
</html>
